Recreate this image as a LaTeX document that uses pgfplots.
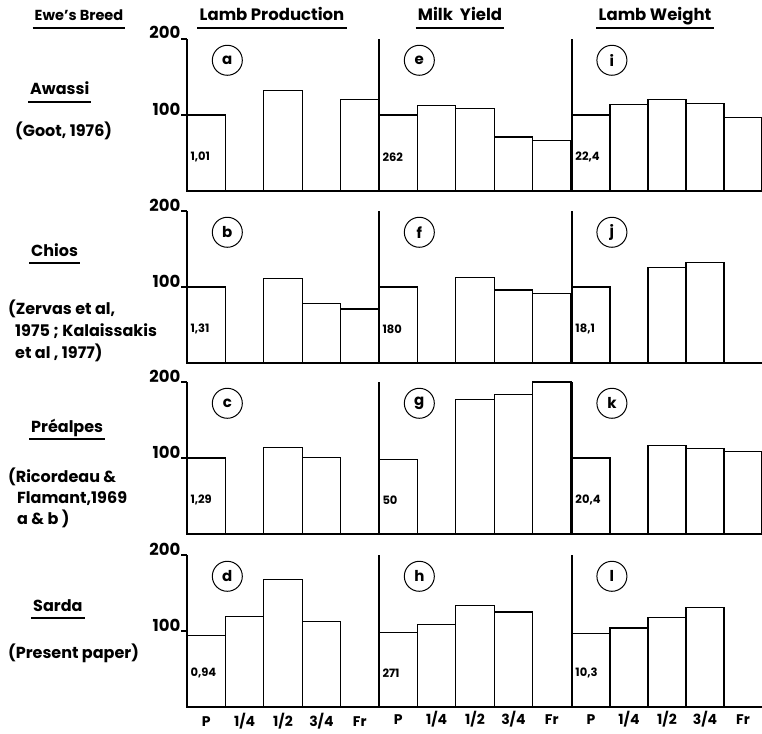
\documentclass[border=0pt]{standalone}
\usepackage{pgfplots}
\pgfplotsset{compat=1.18}
\usepackage{fontspec}
\setmainfont{Poppins}

\pgfplotsset{
  panel/.style={scale only axis, width=192pt, height=152pt,
    xmin=0, xmax=5, ymin=0, ymax=200,
    axis x line=bottom, axis y line=left,
    axis line style={-, line width=1.7pt},
    xtick=\empty, ytick=\empty, axis on top,
    ybar, bar width=1, bar shift=0pt, clip=false, anchor=south west,
    /pgf/number format/assume math mode=true},
  leftcol/.style={ytick={100,200}, tick align=outside, major tick length=6pt,
    ytick style={line width=1.2pt, black},
    yticklabel style={font=\bfseries\fontsize{16.5}{17}\selectfont, anchor=base east, inner sep=0.5pt}},
  bottomrow/.style={xtick={0.5,1.5,2.5,3.5,4.5}, xticklabels={P,1/4,1/2,3/4,Fr},
    xtick style={draw=none},
    xticklabel style={font=\bfseries\fontsize{14}{14}\selectfont, anchor=north,
      inner sep=0pt, text height=10pt, text depth=0pt, yshift=-3pt}},
  barstyle/.style={draw=black, fill=white, line width=1.1pt}
}

\newcommand{\panel}[6]{%
  \begin{axis}[panel, at={(#1pt,-#2pt)}, #6]
    \addplot[barstyle] coordinates {#3};
    \node[circle, draw, line width=1pt, minimum size=30pt, inner sep=0pt,
      font=\bfseries\fontsize{15}{15}\selectfont] at (axis cs:1.05,172) {#4};
    \node[anchor=west, inner sep=1pt, font=\bfseries\fontsize{11.5}{12}\selectfont]
      at (axis cs:0.06,45) {#5};
  \end{axis}}

\tikzset{hd/.style={font=\bfseries\fontsize{16.5}{18}\selectfont, inner sep=0pt, anchor=base},
  lt/.style={font=\bfseries\fontsize{16}{18}\selectfont, inner sep=0pt, anchor=base west}}

\newcommand{\ul}[1]{\draw[line width=1.1pt] ([xshift=-2pt,yshift=-7pt]#1.base west) -- ([xshift=2pt,yshift=-7pt]#1.base east);}

\begin{document}
\begin{tikzpicture}
\useasboundingbox (0,0) rectangle (762pt,-733pt);

% headers
\node[hd, font=\bfseries\fontsize{14.5}{16}\selectfont] (h0) at (79pt,-21pt) {Ewe's Breed}; \ul{h0}
\node[hd] (h1) at (272pt,-21pt) {Lamb Production}; \ul{h1}
\node[hd] (h2) at (460pt,-21pt) {Milk\ \ Yield}; \ul{h2}
\node[hd] (h3) at (655pt,-21pt) {Lamb Weight}; \ul{h3}

% breeds
\node[lt] (b1) at (30pt,-95pt) {Awassi}; \ul{b1}
\node[lt] at (15pt,-136pt) {(Goot, 1976)};
\node[lt] (b2) at (31pt,-256pt) {Chios}; \ul{b2}
\node[lt] at (8pt,-314pt) {(Zervas et al,};
\node[lt] at (15pt,-336pt) {1975 ; Kalaissakis};
\node[lt] at (15pt,-358pt) {et al , 1977)};
\node[lt] (b3) at (31pt,-432pt) {Préalpes}; \ul{b3}
\node[lt] at (8pt,-482pt) {(Ricordeau \&};
\node[lt] at (17pt,-503pt) {Flamant,1969};
\node[lt] at (17pt,-524pt) {a \& b )};
\node[lt] (b4) at (33pt,-611pt) {Sarda}; \ul{b4}
\node[lt] at (8pt,-658pt) {(Present paper)};

% row 1: Awassi
\panel{187}{191}{(0.5,100) (2.5,132) (4.5,120)}{a}{1,01}{leftcol}
\panel{379}{191}{(0.5,100) (1.5,112) (2.5,109) (3.5,71) (4.5,67)}{e}{262}{}
\panel{572}{191}{(0.5,100) (1.5,114) (2.5,120) (3.5,115) (4.5,97)}{i}{22,4}{width=190pt}
% row 2: Chios
\panel{187}{363}{(0.5,100) (2.5,111) (3.5,78) (4.5,71)}{b}{1,31}{leftcol}
\panel{379}{363}{(0.5,100) (2.5,112) (3.5,96) (4.5,91)}{f}{180}{}
\panel{572}{363}{(0.5,100) (2.5,126) (3.5,132)}{j}{18,1}{width=190pt}
% row 3: Prealpes
\panel{187}{534}{(0.5,100) (2.5,114) (3.5,101)}{c}{1,29}{leftcol}
\panel{379}{534}{(0.5,98) (2.5,177) (3.5,184) (4.5,200)}{g}{50}{}
\panel{572}{534}{(0.5,100) (2.5,117) (3.5,113) (4.5,108)}{k}{20,4}{width=190pt}
% row 4: Sarda
\panel{187}{707}{(0.5,94) (1.5,119) (2.5,168) (3.5,113)}{d}{0,94}{leftcol,bottomrow}
\panel{379}{707}{(0.5,98) (1.5,108) (2.5,133) (3.5,125)}{h}{271}{bottomrow}
\panel{572}{707}{(0.5,97) (1.5,104) (2.5,118) (3.5,131)}{l}{10,3}{width=190pt,bottomrow}
\end{tikzpicture}
\end{document}
